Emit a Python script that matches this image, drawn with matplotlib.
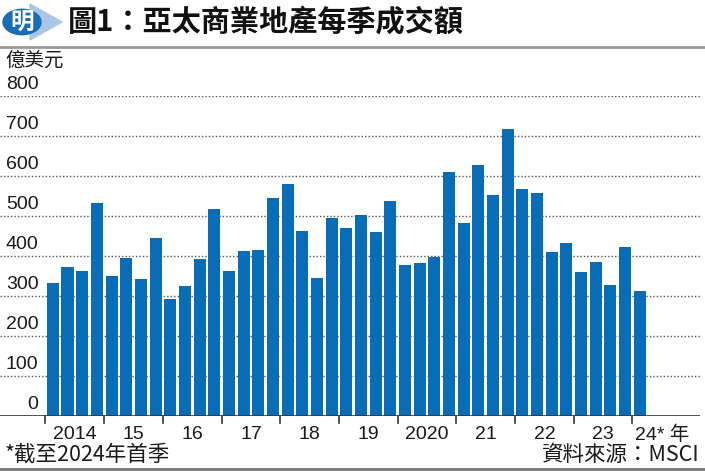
import matplotlib
matplotlib.use("Agg")
import matplotlib.pyplot as plt
from matplotlib.patches import Circle, Polygon
from matplotlib.lines import Line2D

plt.rcParams['font.family'] = ['Liberation Sans', 'Noto Sans CJK TC', 'DejaVu Sans']
CJK = ['Noto Sans CJK TC', 'DejaVu Sans']

# quarterly transaction volume, 2014Q1 .. 2024Q1 (US$ 100m)
values = [332, 372, 363, 532, 349, 395, 342, 444, 292, 324, 392, 518,
          362, 413, 415, 545, 580, 462, 345, 495, 470, 502, 459, 537,
          377, 382, 397, 609, 482, 627, 552, 717, 567, 557, 410, 432,
          359, 385, 327, 422, 312]
year_labels = ['2014', '15', '16', '17', '18', '19', '2020', '21', '22', '23']
last_label = '24* 年'
y_ticks = [0, 100, 200, 300, 400, 500, 600, 700, 800]

W, H = 705, 471
fig = plt.figure(figsize=(W / 100, H / 100), dpi=100)

# axes: x from 0 to 700 px, baseline at y=416, 800 at y=96
ax = fig.add_axes([0, (H - 416) / H, 700 / W, 320 / H])
x = list(range(len(values)))
ax.bar(x, values, width=0.82, color='#0a6cb6', zorder=3)
ax.set_xlim(-3.6, 44.1)
ax.set_ylim(0, 800)
for s in ax.spines.values():
    s.set_visible(False)
ax.set_xticks([])
ax.set_yticks([])

# dotted gridlines + labels sitting above them
for v in y_ticks[1:]:
    ax.axhline(v, color='#555555', lw=1, ls=(0, (1, 1.5)), zorder=1)
ax.axhline(0, color='#333333', lw=1.2, zorder=4)
for v in y_ticks:
    ax.text(0.055, v + 7, str(v), transform=ax.get_yaxis_transform(),
            ha='right', va='bottom', fontsize=14, color='#1a1a1a')

# year boundary ticks and labels
for k in range(11):
    ax.plot([4 * k - 0.5] * 2, [0, -18], color='#333333', lw=1.2, clip_on=False)
for k, lab in enumerate(year_labels):
    ax.text(4 * k + 1.5, -24, lab, ha='center', va='top', fontsize=14, color='#1a1a1a')
ax.text(39.7, -24, last_label, ha='left', va='top', fontsize=14, color='#1a1a1a')

# header
fig.text(68 / W, 1 - 22 / H, '圖1：亞太商業地產每季成交額', family=CJK, fontsize=21,
         fontweight='bold', va='center', ha='left', color='#111111')
fig.add_artist(Polygon([[30 / W, 1 - 4 / H], [62 / W, 1 - 22 / H], [30 / W, 1 - 40 / H]],
                       closed=True, transform=fig.transFigure, color='#a9c6e8'))
fig.add_artist(Circle((22 / W, 1 - 22 / H), 19 / W, transform=fig.transFigure,
                      color='#1a6db5'))
fig.text(22 / W, 1 - 23 / H, '明', family=CJK, fontsize=17, fontweight='bold',
         color='white', ha='center', va='center', style='italic')
fig.add_artist(Line2D([0, 1], [1 - 47 / H] * 2, transform=fig.transFigure,
                      color='#999999', lw=2))
fig.text(5 / W, 1 - 60 / H, '億美元', family=CJK, fontsize=14, va='center', ha='left',
         color='#1a1a1a')

# footer
fig.text(5 / W, 1 - 455 / H, '*截至2024年首季', family=CJK, fontsize=15.5, va='center',
         ha='left', color='#1a1a1a')
fig.text(700 / W, 1 - 455 / H, '資料來源：MSCI', family=CJK, fontsize=15.5, va='center',
         ha='right', color='#1a1a1a')
fig.add_artist(Line2D([0, 1], [1 - 469 / H] * 2, transform=fig.transFigure,
                      color='#777777', lw=2))

fig.savefig('out.png', dpi=100)
